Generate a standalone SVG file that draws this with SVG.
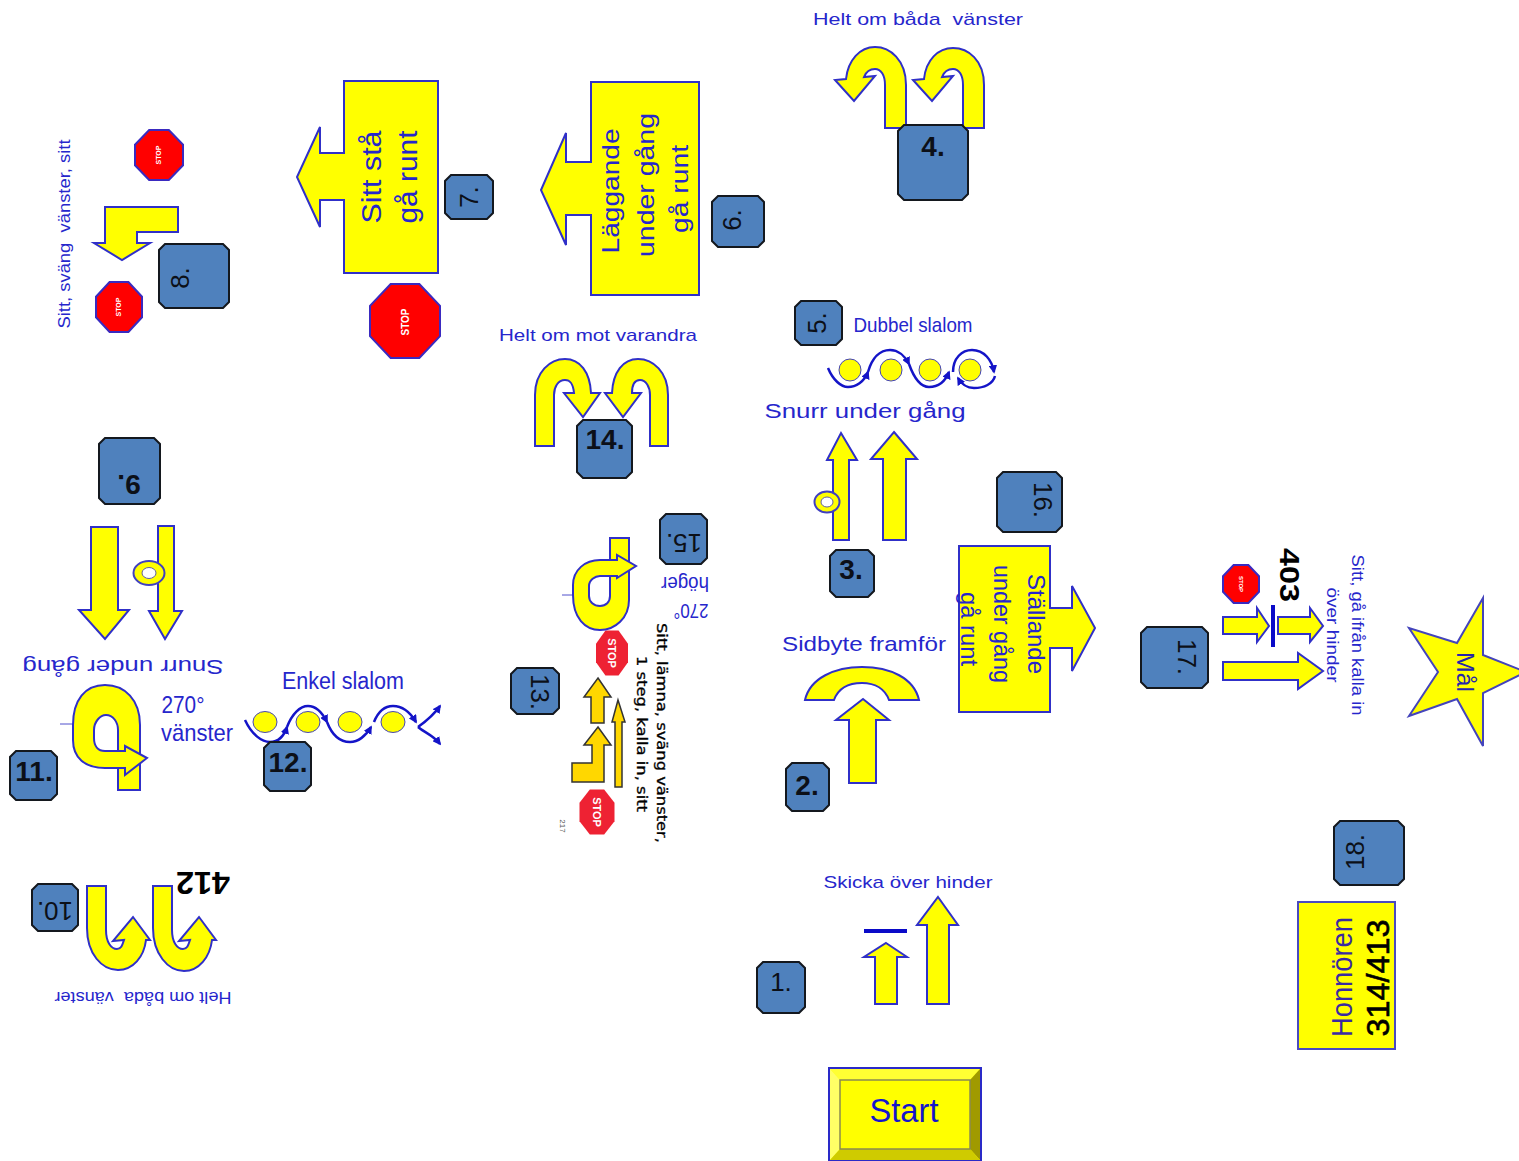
<svg xmlns="http://www.w3.org/2000/svg" width="1519" height="1161" viewBox="0 0 1519 1161">
<style>
text{font-family:"Liberation Sans",Arial,sans-serif;text-anchor:middle}
.l{fill:#2626cc}
.n{fill:#0c1018;font-size:26px}
.nb{fill:#0c1018;font-size:28px;font-weight:bold}
.k{fill:#000;font-weight:bold}
.y{fill:#ff0;stroke:#3030c8;stroke-width:2;stroke-linejoin:miter;fill-rule:evenodd}
.box{fill:#4f81bd;stroke:#14181e;stroke-width:2}
.stop{fill:#f00;stroke:#3a2ac0;stroke-width:2}
.rs{fill:#ee2233;stroke:none}
.st{fill:#fff;font-weight:bold}
.g{fill:#ffd700;stroke:#333;stroke-width:1.5}
.c{fill:#ff0;stroke:#4444bb;stroke-width:1}
.w{fill:none;stroke:#1414c8;stroke-width:2.5;marker-end:url(#ah)}
.w0{fill:none;stroke:#1414c8;stroke-width:2.5}
.bar{fill:#0a0ac8}
.thin{stroke:#5050cc;stroke-width:1}
</style>
<defs>
<marker id="ah" viewBox="0 0 10 10" refX="8" refY="5" markerWidth="3.4" markerHeight="3.4" orient="auto"><path d="M0 0L10 5L0 10Z" fill="#1414c8"/></marker>
<polygon id="oct" points="-0.41,-1 0.41,-1 1,-0.41 1,0.41 0.41,1 -0.41,1 -1,0.41 -1,-0.41" vector-effect="non-scaling-stroke"/>
</defs>
<rect width="1519" height="1161" fill="#fff"/>

<g id="start">
<rect x="829" y="1068" width="152" height="93" fill="#ff0" stroke="#2a2ac8" stroke-width="2"/>
<polygon points="830,1069 980,1069 970,1080 840,1080" fill="#ffff33"/>
<polygon points="830,1069 840,1080 840,1149 830,1160" fill="#ffff66"/>
<polygon points="980,1069 970,1080 970,1149 980,1160" fill="#a09a00"/>
<polygon points="830,1160 840,1149 970,1149 980,1160" fill="#cfcb00"/>
<rect x="840" y="1080" width="130" height="69" fill="#ff0" stroke="#8a8a50" stroke-width="1.5"/>
<text x="904" y="1122" font-size="34" fill="#1414cc" textLength="69" lengthAdjust="spacingAndGlyphs">Start</text>
</g>

<g id="step1">
<path class="box" d="M763 962H799L805 968V1007L799 1013H763L757 1007V968Z"/>
<text class="n" x="781" y="991">1.</text>
<text class="l" x="908" y="888" font-size="17" textLength="169" lengthAdjust="spacingAndGlyphs">Skicka över hinder</text>
<polygon class="y" points="938,897 958,925 949,925 949,1004 927,1004 927,925 917,925"/>
<polygon class="y" points="886,943 907,957 897,957 897,1004 875,1004 875,957 864,957"/>
<rect class="bar" x="864" y="929" width="43" height="4"/>
</g>

<g id="step2">
<path class="box" d="M792 763H823L829 769V805L823 811H792L786 805V769Z"/>
<text class="nb" x="807" y="795">2.</text>
<polygon class="y" points="863,699 889,720 876,720 876,783 849,783 849,720 836,720"/>
<path class="y" d="M805 700C810 678 835 667 862 667C890 667 914 678 919 700H889C885 689 875 683 862 683C848 683 838 689 834 700Z"/>
<text class="l" x="864" y="651" font-size="21" textLength="164" lengthAdjust="spacingAndGlyphs">Sidbyte framför</text>
</g>

<g id="step3">
<path class="box" d="M836 550H868L874 556V591L868 597H836L830 591V556Z"/>
<text class="nb" x="851" y="579">3.</text>
<polygon class="y" points="841,433 857,460 849,460 849,540 833,540 833,460 827,460"/>
<polygon class="y" points="894,432 917,459 906,459 906,540 883,540 883,459 871,459"/>
<ellipse cx="827" cy="502" rx="12.5" ry="10.5" fill="#ff0" stroke="#4040c0" stroke-width="2"/>
<ellipse cx="827" cy="502" rx="6" ry="5" fill="#fff" stroke="#6060a0" stroke-width="1"/>
<text class="l" x="865" y="418" font-size="20" textLength="201" lengthAdjust="spacingAndGlyphs">Snurr under gång</text>
</g>

<g id="step4">
<path class="y" d="M906 128V85C906 60 890 47 875 47C860 47 848 60 846 79L835 80L854 101L875 76L864 77C866 72 870 69 875 69C881 69 885 75 885 85V128Z"/>
<path class="y" d="M984 128V85C984 60 968 48 953 48C938 48 926 60 924 79L913 80L932 101L953 76L942 77C944 72 948 69 953 69C959 69 963 75 963 85V128Z"/>
<path class="box" d="M904 125H962L968 131V194L962 200H904L898 194V131Z"/>
<text class="nb" x="933" y="156">4.</text>
<text class="l" x="918" y="25" font-size="17" textLength="210" lengthAdjust="spacingAndGlyphs" xml:space="preserve">Helt om båda  vänster</text>
</g>

<g id="step5">
<path class="box" d="M801 301H836L842 307V339L836 345H801L795 339V307Z"/>
<text class="n" transform="translate(826,323) rotate(-90)">5.</text>
<text class="l" x="913" y="332" font-size="21" textLength="119" lengthAdjust="spacingAndGlyphs">Dubbel slalom</text>
<circle class="c" cx="850" cy="370" r="11"/><circle class="c" cx="891" cy="370" r="11"/><circle class="c" cx="930" cy="370" r="11"/><circle class="c" cx="970" cy="370" r="11"/>
<path class="w" d="M828 368C833 380 841 387 848 387C856 387 864 382 868 372"/>
<path class="w" d="M868 372C872 358 880 350 890 350C898 350 905 356 909 364"/>
<path class="w" d="M909 364C914 378 920 387 929 387C938 387 945 382 949 372"/>
<path class="w" d="M953 372C953 358 962 350 972 350C984 350 992 360 994 372"/>
<path class="w" d="M995 376C993 384 984 388 974 388C968 388 962 385 958 378"/>
</g>

<g id="step6">
<path class="y" d="M591 82H699V295H591V215H566V245L541 190L566 133V162H591Z"/>
<path class="box" d="M718 196H758L764 202V241L758 247H718L712 241V202Z"/>
<text class="n" transform="translate(741,220) rotate(-90)">6.</text>
<text class="l" font-size="24" transform="translate(619,191) rotate(-90)" textLength="125" lengthAdjust="spacingAndGlyphs">Läggande</text>
<text class="l" font-size="24" transform="translate(654,185) rotate(-90)" textLength="144" lengthAdjust="spacingAndGlyphs">under gång</text>
<text class="l" font-size="24" transform="translate(688,189) rotate(-90)" textLength="88" lengthAdjust="spacingAndGlyphs">gå runt</text>
</g>

<g id="step7">
<path class="y" d="M344 81H438V273H344V200H320V227L297 177L320 127V153H344Z"/>
<path class="box" d="M451 175H487L493 181V213L487 219H451L445 213V181Z"/>
<text class="n" transform="translate(478,197) rotate(-90)">7.</text>
<text class="l" font-size="27" transform="translate(381,177) rotate(-90)" textLength="93" lengthAdjust="spacingAndGlyphs">Sitt stå</text>
<text class="l" font-size="27" transform="translate(417,177) rotate(-90)" textLength="93" lengthAdjust="spacingAndGlyphs">gå runt</text>
<use href="#oct" class="stop" transform="translate(405,321) scale(35,37)"/>
<text class="st" font-size="10" transform="translate(409,322) rotate(-90)">STOP</text>
</g>

<g id="step8">
<path class="box" d="M165 244H223L229 250V302L223 308H165L159 302V250Z"/>
<text class="n" transform="translate(189,278) rotate(-90)">8.</text>
<polygon class="y" points="105,207 178,207 178,232 137,232 137,243 150,243 122,260 94,243 105,243"/>
<use href="#oct" class="stop" transform="translate(159,155) scale(24,25)"/>
<text class="st" font-size="7" transform="translate(161,155) rotate(-90)">STOP</text>
<use href="#oct" class="stop" transform="translate(119,307) scale(23,25)"/>
<text class="st" font-size="7" transform="translate(121,307) rotate(-90)">STOP</text>
<text class="l" font-size="17" transform="translate(70,234) rotate(-90)" textLength="189" lengthAdjust="spacingAndGlyphs" xml:space="preserve">Sitt, sväng  vänster, sitt</text>
</g>

<g id="step9">
<path class="box" d="M105 438H154L160 444V498L154 504H105L99 498V444Z"/>
<text class="nb" transform="translate(129,475) rotate(180)">9.</text>
<polygon class="y" points="91,527 118,527 118,610 129,610 105,639 79,610 91,610"/>
<polygon class="y" points="158,526 174,526 174,611 182,611 165,639 149,611 158,611"/>
<ellipse cx="149" cy="573" rx="15.5" ry="12" fill="#ff0" stroke="#4040c0" stroke-width="2"/>
<ellipse cx="149" cy="573" rx="7" ry="5.5" fill="#fff" stroke="#6060a0" stroke-width="1"/>
<text class="l" font-size="20" transform="translate(123,660) rotate(180)" textLength="201" lengthAdjust="spacingAndGlyphs">Snurr under gång</text>
</g>

<g id="step10">
<path class="box" d="M38 884H72L78 890V925L72 931H38L32 925V890Z"/>
<text class="n" transform="translate(55,902) rotate(180)">10.</text>
<path class="y" d="M87 886V928C87 954 102 970 118 970C133 970 144 957 146 940L150 940L133 917L113 941L124 940C122 946 121 949 117 949C111 949 106 942 106 930V886Z"/>
<path class="y" d="M153 886V928C153 954 168 971 184 971C199 971 210 957 212 940L216 940L199 917L179 941L190 940C188 946 187 949 183 949C177 949 172 942 172 930V886Z"/>
<text class="k" font-size="31" transform="translate(203,872) rotate(180)" textLength="54" lengthAdjust="spacingAndGlyphs">412</text>
<text class="l" font-size="17" transform="translate(143,992) rotate(180)" textLength="177" lengthAdjust="spacingAndGlyphs" xml:space="preserve">Helt om båda  vänster</text>
</g>

<g id="step11">
<path class="box" d="M16 751H51L57 757V794L51 800H16L10 794V757Z"/>
<text class="nb" x="34" y="781">11.</text>
<line class="thin" x1="60" y1="724" x2="94" y2="724"/>
<path class="y" d="M118 790H140V725C140 700 125 685 105 685C85 685 73 700 73 725V740C73 758 85 768 105 768H118ZM94 730C94 722 100 715 106 715C113 715 118 722 118 730V751H105C98 751 94 746 94 738Z"/>
<path class="y" d="M118 751H125V746L147 758L125 775V768H118"/>
<text class="l" x="183" y="713" font-size="24" textLength="43" lengthAdjust="spacingAndGlyphs">270°</text>
<text class="l" x="197" y="741" font-size="24" textLength="72" lengthAdjust="spacingAndGlyphs">vänster</text>
</g>

<g id="step12">
<ellipse class="c" cx="265" cy="722" rx="12" ry="10.5"/><ellipse class="c" cx="308" cy="722" rx="12" ry="10.5"/><ellipse class="c" cx="350" cy="722" rx="12" ry="10.5"/><ellipse class="c" cx="393" cy="722" rx="12" ry="10.5"/>
<path class="w" d="M245 720C252 735 262 742 270 742C278 742 284 736 287 727"/>
<path class="w" d="M287 727C292 714 300 706 308 706C316 706 322 712 327 722"/>
<path class="w" d="M327 722C332 735 340 742 350 742C358 742 366 736 371 727"/>
<path class="w" d="M374 722C378 712 385 706 393 706C402 706 410 712 416 722"/>
<path class="w" d="M418 727C425 722 433 716 440 706"/>
<path class="w" d="M418 727C425 733 433 735 440 744"/>
<path class="box" d="M270 742H305L311 748V785L305 791H270L264 785V748Z"/>
<text class="nb" x="288" y="772">12.</text>
<text class="l" x="343" y="689" font-size="23" textLength="122" lengthAdjust="spacingAndGlyphs">Enkel slalom</text>
</g>

<g id="step13">
<path class="box" d="M517 668H553L559 674V708L553 714H517L511 708V674Z"/>
<text class="n" transform="translate(531,692) rotate(90)">13.</text>
<polygon class="g" points="598,678 611,697 604,697 604,723 591,723 591,697 584,697"/>
<polygon class="g" points="598,727 611,745 604,745 604,782 572,782 572,763 592,763 592,745 584,745"/>
<polygon class="g" points="618,700 625,722 622,722 622,787 615,787 615,722 612,722"/>
<use href="#oct" class="rs" transform="translate(612,653) scale(16,22.5)"/>
<text class="st" font-size="11" transform="translate(608,653) rotate(90)">STOP</text>
<use href="#oct" class="rs" transform="translate(597,812) scale(17.5,22.5)"/>
<text class="st" font-size="11" transform="translate(593,812) rotate(90)">STOP</text>
<text class="k" font-size="14" transform="translate(657,733) rotate(90)" textLength="220" lengthAdjust="spacingAndGlyphs" style="font-family:'DejaVu Sans','Liberation Sans',sans-serif;font-weight:normal;stroke:#000;stroke-width:.3">Sitt, lämna, sväng vänster,</text>
<text class="k" font-size="14" transform="translate(637,734) rotate(90)" textLength="156" lengthAdjust="spacingAndGlyphs" style="font-family:'DejaVu Sans','Liberation Sans',sans-serif;font-weight:normal;stroke:#000;stroke-width:.3">1 steg, kalla in, sitt</text>
<text font-size="8" fill="#555" transform="translate(560,826) rotate(90)">217</text>
</g>

<g id="step14">
<path class="y" d="M535 446V395C535 372 550 359 565 359C580 359 590 372 591 393L600 393L583 417L564 393L574 393C573 383 570 380 565 380C558 380 554 387 554 395V446Z"/>
<path class="y" d="M668 446V395C668 372 653 359 638 359C623 359 613 372 612 393L605 393L623 417L641 393L632 393C632 383 635 380 640 380C646 380 650 387 650 395V446Z"/>
<path class="box" d="M583 420H626L632 426V472L626 478H583L577 472V426Z"/>
<text class="nb" x="605" y="449">14.</text>
<text class="l" x="598" y="341" font-size="17" textLength="198" lengthAdjust="spacingAndGlyphs">Helt om mot varandra</text>
</g>

<g id="step15">
<path class="box" d="M666 514H701L707 520V558L701 564H666L660 558V520Z"/>
<text class="n" transform="translate(684,534) rotate(180)">15.</text>
<line class="thin" x1="562" y1="595" x2="590" y2="595"/>
<path class="y" d="M610 538H629V600C629 618 615 630 600 630C585 630 573 618 573 595V585C573 570 585 560 600 560H610ZM589 586C589 580 595 576 600 576H610V596C610 602 606 606 600 606C594 606 589 602 589 596Z"/>
<path class="y" d="M610 576H617V578L636 566L617 555V560H610"/>
<text class="l" font-size="21" transform="translate(685,577) rotate(180)" textLength="48" lengthAdjust="spacingAndGlyphs">höger</text>
<text class="l" font-size="21" transform="translate(691,604) rotate(180)" textLength="35" lengthAdjust="spacingAndGlyphs">270°</text>
</g>

<g id="step16">
<path class="box" d="M1003 472H1056L1062 478V526L1056 532H1003L997 526V478Z"/>
<text class="n" transform="translate(1034,500) rotate(90)">16.</text>
<path class="y" d="M959 546H1050V608H1072V586L1095 628L1072 671V648H1050V712H959Z"/>
<text class="l" font-size="24" transform="translate(1028,624) rotate(90)" textLength="100" lengthAdjust="spacingAndGlyphs">Ställande</text>
<text class="l" font-size="24" transform="translate(994,624) rotate(90)" textLength="118" lengthAdjust="spacingAndGlyphs">under gång</text>
<text class="l" font-size="24" transform="translate(961,629) rotate(90)" textLength="74" lengthAdjust="spacingAndGlyphs">gå runt</text>
</g>

<g id="step17">
<path class="box" d="M1147 627H1202L1208 633V682L1202 688H1147L1141 682V633Z"/>
<text class="n" transform="translate(1178,657) rotate(90)">17.</text>
<use href="#oct" class="stop" transform="translate(1241,584) scale(18,19)"/>
<text class="st" font-size="6" transform="translate(1239,584) rotate(90)">STOP</text>
<text class="k" font-size="28" transform="translate(1280,575) rotate(90)" textLength="54" lengthAdjust="spacingAndGlyphs">403</text>
<polygon class="y" points="1223,617 1257,617 1257,608 1269,626 1257,642 1257,634 1223,634"/>
<rect class="bar" x="1271" y="605" width="4" height="42"/>
<polygon class="y" points="1278,617 1310,617 1310,608 1323,626 1310,642 1310,634 1278,634"/>
<polygon class="y" points="1223,662 1298,662 1298,653 1323,671 1298,689 1298,680 1223,680"/>
<text class="l" font-size="16" transform="translate(1352,635) rotate(90)" textLength="161" lengthAdjust="spacingAndGlyphs">Sitt, gå ifrån kalla in</text>
<text class="l" font-size="16" transform="translate(1327,635) rotate(90)" textLength="95" lengthAdjust="spacingAndGlyphs">över hinder</text>
</g>

<g id="goal">
<polygon class="c" style="stroke-width:2" points="1483,598 1457,643 1409,628 1438,672 1409,716 1457,699 1483,746 1483,693 1526,672 1483,655"/>
<text fill="#2626aa" font-size="24" transform="translate(1457,672) rotate(90)" textLength="40" lengthAdjust="spacingAndGlyphs">Mål</text>
</g>

<g id="step18">
<path class="box" d="M1340 821H1398L1404 827V879L1398 885H1340L1334 879V827Z"/>
<text class="n" transform="translate(1364,852) rotate(-90)">18.</text>
<rect x="1298" y="902" width="97" height="147" fill="#ff0" stroke="#4a4ac0" stroke-width="2"/>
<text class="l" font-size="29" transform="translate(1352,977) rotate(-90)" textLength="120" lengthAdjust="spacingAndGlyphs" style="fill:#3a2aa0">Honnören</text>
<text class="k" font-size="31" transform="translate(1389,978) rotate(-90)" textLength="117" lengthAdjust="spacingAndGlyphs" style="font-weight:normal;stroke:#000;stroke-width:.6">314/413</text>
</g>
</svg>
